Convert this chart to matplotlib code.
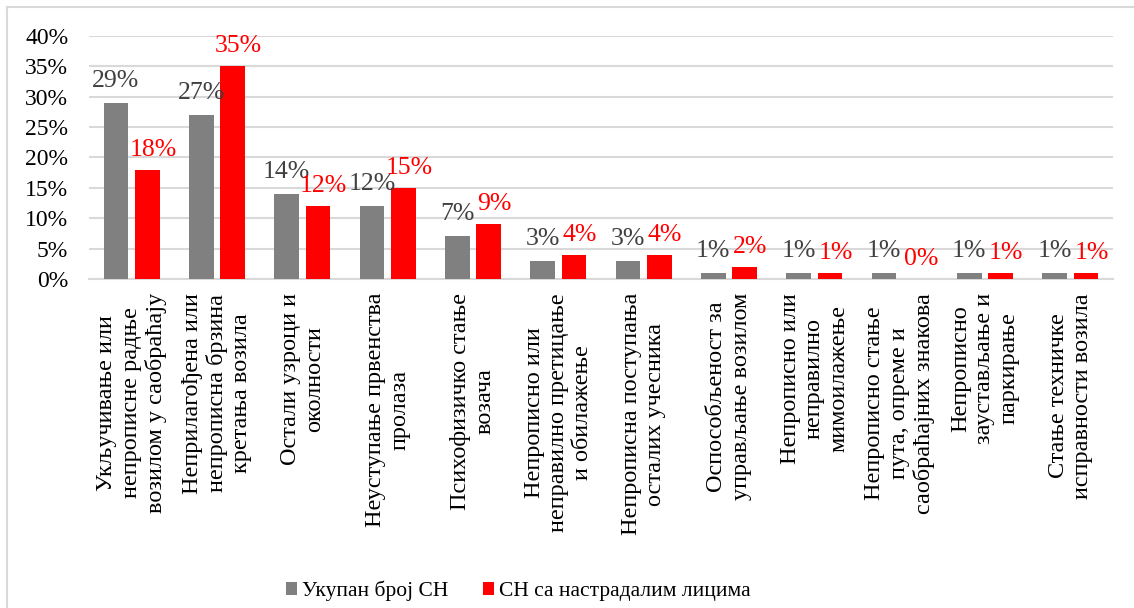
import matplotlib
matplotlib.use("Agg")
import matplotlib.pyplot as plt
import numpy as np
from matplotlib.lines import Line2D

plt.rcParams['font.family'] = ['Liberation Serif', 'DejaVu Serif']

categories = [
    "Укључивање или\nнепрописне радње\nвозилом у саобраћају",
    "Неприлагођена или\nнепрописна брзина\nкретања возила",
    "Остали узроци и\nоколности",
    "Неуступање првенства\nпролаза",
    "Психофизичко стање\nвозача",
    "Непрописно или\nнеправилно претицање\nи обилажење",
    "Непрописна поступања\nосталих учесника",
    "Оспособљеност за\nуправљање возилом",
    "Непрописно или\nнеправилно\nмимоилажење",
    "Непрописно стање\nпута, опреме и\nсаобраћајних знакова",
    "Непрописно\nзаустављање и\nпаркирање",
    "Стање техничке\nисправности возила",
]
total = [29, 27, 14, 12, 7, 3, 3, 1, 1, 1, 1, 1]
injured = [18, 35, 12, 15, 9, 4, 4, 2, 1, 0, 1, 1]
series_names = ["Укупан број СН", "СН са настрадалим лицима"]
yticks = [0, 5, 10, 15, 20, 25, 30, 35, 40]

W, H = 1134, 608
fig = plt.figure(figsize=(W / 100, H / 100), dpi=100)
ax = fig.add_axes([89 / W, 1 - 279 / H, (1113 - 89) / W, (279 - 36) / H])

x = np.arange(len(categories))
bw = 0.29
off = 0.184
gray = '#808080'
red = '#ff0000'
b1 = ax.bar(x - off, total, bw, color=gray, label=series_names[0], zorder=3)
b2 = ax.bar(x + off, injured, bw, color=red, label=series_names[1], zorder=3)

for xi, v in zip(x, total):
    ax.annotate(f"{v}%", (xi - off, v), xytext=(0, 8), textcoords='offset points',
                ha='center', va='bottom', fontsize=18.5, color='#404040', zorder=4)
for xi, v in zip(x, injured):
    ax.annotate(f"{v}%", (xi + off, v), xytext=(4, 6.5), textcoords='offset points',
                ha='center', va='bottom', fontsize=18.5, color=red, zorder=4)

ax.set_xlim(-0.5, len(categories) - 0.5)
ax.set_ylim(0, 40)
ax.set_yticks(yticks)
ax.set_yticklabels([f"{t}%" for t in yticks], fontsize=17)
ax.set_xticks(x)
ax.set_xticklabels(categories, rotation=90, ha='center', va='top',
                   multialignment='center', fontsize=17.5, linespacing=1.2)
ax.tick_params(axis='both', length=0)
ax.tick_params(axis='y', pad=15)
ax.tick_params(axis='x', pad=10)
ax.grid(axis='y', color='#d9d9d9', linewidth=1.5, zorder=0)
for s in ['top', 'right', 'left']:
    ax.spines[s].set_visible(False)
ax.spines['bottom'].set_color('#d9d9d9')
ax.spines['bottom'].set_linewidth(1.5)

leg = fig.legend(handles=[b1, b2], labels=series_names, loc='center',
                 bbox_to_anchor=(518.5 / W, 1 - 591 / H), ncol=2, frameon=False,
                 fontsize=15.5, handlelength=0.5, handleheight=0.5,
                 handletextpad=0.25, columnspacing=1.6)

fig.add_artist(Line2D([7 / W, 7 / W], [0, 1 - 7 / H], color='#d9d9d9', lw=1.5,
                      transform=fig.transFigure))
fig.add_artist(Line2D([7 / W, 1], [1 - 7 / H, 1 - 7 / H], color='#d9d9d9', lw=1.5,
                      transform=fig.transFigure))

fig.savefig("out.png", dpi=100, facecolor='white')
